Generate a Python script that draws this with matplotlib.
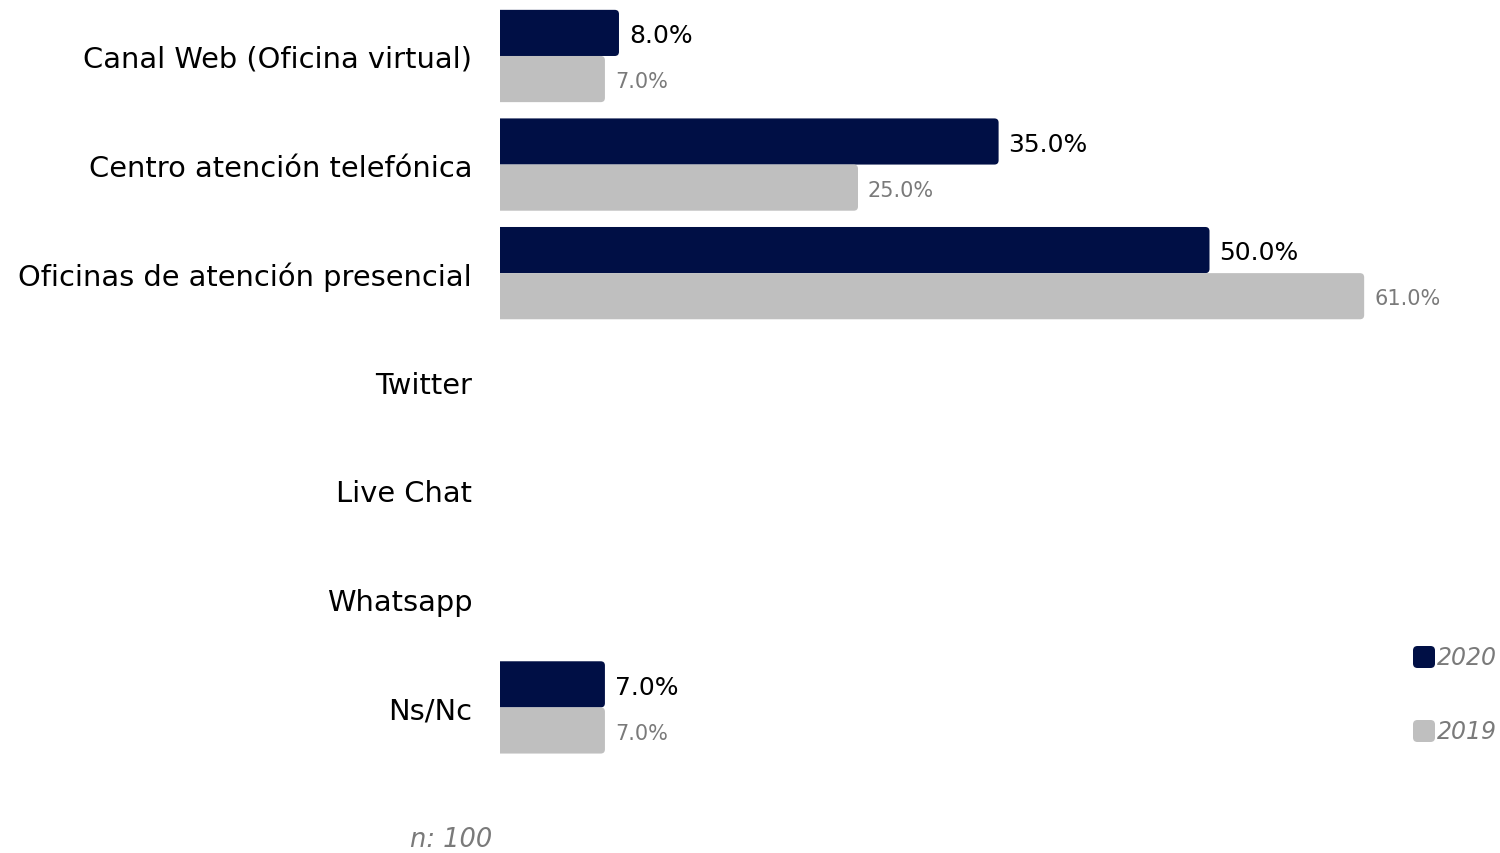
import matplotlib.pyplot as plt
from matplotlib.patches import FancyBboxPatch

### data
categories = ['Canal Web (Oficina virtual)', 'Centro atención telefónica',
              'Oficinas de atención presencial', 'Twitter', 'Live Chat',
              'Whatsapp', 'Ns/Nc']
v2020 = [8.0, 35.0, 50.0, None, None, None, 7.0]
v2019 = [7.0, 25.0, 61.0, None, None, None, 7.0]
years = ['2020', '2019']
sample_note = 'n: 100'

navy = '#000f45'
grey = '#bfbfbf'
font = 'DejaVu Sans'

px_per = 14.06
fig = plt.figure(figsize=(15, 8.54), dpi=100)
ax = fig.add_axes([500 / 1500, (854 - 762.7) / 854, 1000 / 1500, 760 / 854])
ax.set_xlim(0, 1000 / px_per)
ax.set_ylim(len(categories) - 0.5, -0.5)

h = 0.425
aspect = px_per / (760 / 7)
extra = 6.5 / px_per


def rbar(y, w, color):
    # rounded bar, left end pushed past the axis so it gets clipped square
    p = FancyBboxPatch((-0.6, y), w + 0.6 + extra, h,
                       boxstyle='round,pad=0,rounding_size=0.3',
                       mutation_aspect=aspect, fc=color, ec='none')
    ax.add_patch(p)


for i, cat in enumerate(categories):
    if v2020[i] is not None:
        rbar(i - h, v2020[i], navy)
        ax.text(v2020[i] + extra + 0.7, i - h / 2 + 0.02, f'{v2020[i]:.1f}%', va='center',
                ha='left', fontsize=18, color='black', family=font)
    if v2019[i] is not None:
        rbar(i, v2019[i], grey)
        ax.text(v2019[i] + extra + 0.7, i + h / 2 + 0.02, f'{v2019[i]:.1f}%', va='center',
                ha='left', fontsize=15, color='#7a7a7a', family=font)

ax.set_yticks(range(len(categories)))
ax.set_yticklabels(categories, fontsize=20.8, family=font)
ax.tick_params(axis='y', length=0, pad=20)
ax.set_xticks([])
for s in ax.spines.values():
    s.set_visible(False)

# legend
for k, (yr, col) in enumerate(zip(years, [navy, grey])):
    yc = 1 - (658 + 74 * k) / 854
    fig.patches.append(FancyBboxPatch((1413 / 1500, yc - 11 / 854), 22 / 1500, 22 / 854,
                                      boxstyle='round,pad=0,rounding_size=0.003',
                                      mutation_aspect=1500 / 854,
                                      transform=fig.transFigure, fc=col, ec='none'))
    fig.text(1437 / 1500, yc, yr, va='center', ha='left', fontsize=17,
             style='italic', color='#7a7a7a', family=font)

fig.text(492 / 1500, 1 - 840 / 854, sample_note, va='center', ha='right',
         fontsize=18.5, style='italic', color='#7a7a7a', family=font)

fig.savefig('out.png', dpi=100, facecolor='white')
